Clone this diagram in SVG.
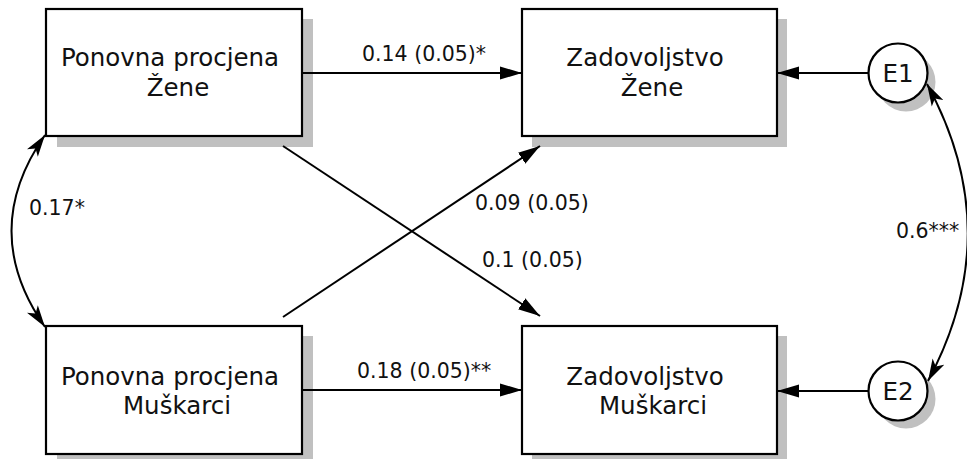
<svg xmlns="http://www.w3.org/2000/svg" width="967" height="459" viewBox="0 0 967 459">
<defs>
<style>
.box{fill:#fff;stroke:#000;stroke-width:2.2}
.shadow{fill:#c0c0c0;stroke:none}
.node{font-family:"DejaVu Sans",sans-serif;font-size:24.5px;fill:#111;text-anchor:middle}
.lbl{font-family:"DejaVu Sans",sans-serif;font-size:20.5px;fill:#111}
.edge{fill:none;stroke:#000;stroke-width:2}
</style>
<marker id="ah" markerUnits="userSpaceOnUse" markerWidth="22" markerHeight="14" viewBox="0 0 20 12" refX="20" refY="6" orient="auto-start-reverse">
<path d="M0,0 L20,6 L0,12 z" fill="#000"/>
</marker>
<marker id="ahc" markerUnits="userSpaceOnUse" markerWidth="22" markerHeight="14" viewBox="0 0 20 12" refX="20" refY="6" orient="auto-start-reverse">
<path d="M0,0 L20,6 L0,12 L5,6 z" fill="#000"/>
</marker>
</defs>
<rect width="967" height="459" fill="#fff"/>
<g id="n1">
<rect class="shadow" x="57" y="19" width="256" height="128"/>
<rect class="box" x="46" y="9" width="256" height="127"/>
<text class="node" x="170" y="66">Ponovna procjena</text>
<text class="node" x="178" y="96">Žene</text>
</g>
<g id="n2">
<rect class="shadow" x="532" y="19" width="255" height="128"/>
<rect class="box" x="522" y="9" width="255" height="127"/>
<text class="node" x="645" y="66">Zadovoljstvo</text>
<text class="node" x="652" y="96">Žene</text>
</g>
<g id="n3">
<rect class="shadow" x="57" y="336" width="256" height="128"/>
<rect class="box" x="46" y="326" width="256" height="128"/>
<text class="node" x="170" y="385">Ponovna procjena</text>
<text class="node" x="177" y="414">Muškarci</text>
</g>
<g id="n4">
<rect class="shadow" x="532" y="336" width="255" height="128"/>
<rect class="box" x="522" y="326" width="255" height="128"/>
<text class="node" x="645" y="385">Zadovoljstvo</text>
<text class="node" x="653" y="414">Muškarci</text>
</g>
<g id="e1">
<circle class="shadow" cx="906" cy="82" r="29.5"/>
<circle class="box" cx="898" cy="73" r="29.5"/>
<text class="node" x="898" y="82">E1</text>
</g>
<g id="e2">
<circle class="shadow" cx="906" cy="399" r="29.5"/>
<circle class="box" cx="898" cy="391" r="29.5"/>
<text class="node" x="898" y="400">E2</text>
</g>
<g id="connectors">
<line class="edge" x1="302" y1="73" x2="522" y2="73" marker-end="url(#ah)"/>
<line class="edge" x1="302" y1="390" x2="522" y2="390" marker-end="url(#ah)"/>
<line class="edge" x1="868" y1="73" x2="777" y2="73" marker-end="url(#ah)"/>
<line class="edge" x1="868" y1="391" x2="777" y2="391" marker-end="url(#ah)"/>
<line class="edge" x1="283" y1="146" x2="540" y2="316" marker-end="url(#ah)"/>
<line class="edge" x1="283" y1="317" x2="540" y2="146" marker-end="url(#ah)"/>
<path class="edge" d="M45,135 Q-22,231 45,327" marker-start="url(#ahc)" marker-end="url(#ahc)"/>
<path class="edge" d="M927,84 Q1008,232 928,381" marker-start="url(#ahc)" marker-end="url(#ahc)"/>
<text class="lbl" x="362" y="61">0.14 (0.05)*</text>
<text class="lbl" x="357" y="378">0.18 (0.05)**</text>
<text class="lbl" x="475" y="210">0.09 (0.05)</text>
<text class="lbl" x="482" y="267">0.1 (0.05)</text>
<text class="lbl" x="29" y="215">0.17*</text>
<text class="lbl" x="896" y="238">0.6***</text>
</g>
</svg>
